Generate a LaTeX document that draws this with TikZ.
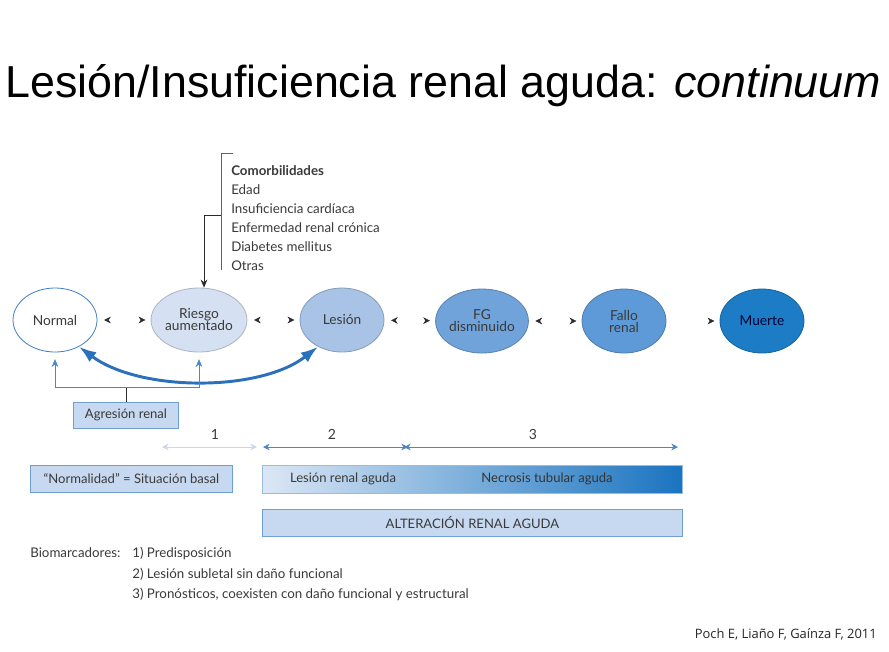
\documentclass[tikz,border=0pt]{standalone}
\usepackage{fontspec}
\setmainfont{Lato}
\newfontfamily\titlefont{Liberation Sans}
\newfontfamily\citefont{Open Sans}
\usetikzlibrary{shapes.geometric,arrows.meta}
\definecolor{edgeblue}{HTML}{3F7FC4}
\definecolor{fRiesgo}{HTML}{D5E1F2}
\definecolor{fLesion}{HTML}{A8C3E6}
\definecolor{fFG}{HTML}{6FA3DA}
\definecolor{fFallo}{HTML}{5E9AD7}
\definecolor{fMuerte}{HTML}{1C7DC6}
\definecolor{boxfill}{HTML}{C7D9F0}
\definecolor{boxedge}{HTML}{6E9ED3}
\definecolor{txt}{HTML}{3A3A3A}
\definecolor{bigblue}{HTML}{2A70BC}
\definecolor{tipgray}{HTML}{2B2B2B}
\definecolor{paleblue}{HTML}{C9D8EA}
\definecolor{lineblue}{HTML}{4A86C8}
\definecolor{gradL}{HTML}{DCE7F5}
\definecolor{gradM}{HTML}{9CBAE2}
\definecolor{gradR}{HTML}{1A74C0}
\tikzset{
  stage/.style={ellipse, minimum width=63pt, minimum height=48pt, inner sep=0pt,
    draw=#1!80!black, line width=0.6pt, fill=#1, text=txt, align=center,
    font=\fontsize{10.3}{10}\selectfont},
  tipline/.style={draw=white, line width=0.3pt, shorten <=5pt, shorten >=4pt,
    {Stealth[length=5pt,width=5pt,color=tipgray]}-{Stealth[length=5pt,width=5pt,color=tipgray]}},
  tipone/.style={draw=white, line width=0.3pt, shorten <=5pt, shorten >=4pt,
    -{Stealth[length=5pt,width=5pt,color=tipgray]}},
  bigarr/.style={draw=bigblue, line width=2.2pt,
    {Latex[length=13pt,width=9pt]}-{Latex[length=13pt,width=9pt]}},
  thinblue/.style={draw=lineblue, line width=0.6pt},
  graytxt/.style={text=txt, font=\fontsize{10}{14.25}\selectfont, inner sep=0pt},
  bluebox/.style={draw=boxedge, line width=0.6pt, fill=boxfill, text=txt,
    font=\fontsize{9.8}{9.8}\selectfont, inner sep=0pt},
  numarr/.style={line width=0.6pt, {Stealth[length=5pt,width=5pt]}-{Stealth[length=5pt,width=5pt]}}
}
\begin{document}
\begin{tikzpicture}[x=0.75pt,y=-0.75pt]
\useasboundingbox (0,0) rectangle (889,651);
\fill[white] (0,0) rectangle (889,651);

% title
\node[anchor=base west, inner sep=0pt, font=\titlefont\fontsize{33.6}{33.6}\selectfont] (title) at (5,97)
  {Lesión/Insuficiencia renal aguda: \textit{continuum}};

% stages
\node[stage=white, draw=edgeblue] (Normal) at (55,320) {Normal};
\node[stage=fRiesgo] (Riesgo) at (199,320) {Riesgo\\[-1pt]aumentado};
\node[stage=fLesion] (Lesion) at (342,320) {Lesión};
\node[stage=fFG] (FG) at (482,321) {FG\\[-1pt]disminuido};
\node[stage=fFallo] (Fallo) at (624,321) {Fallo\\[-1pt]renal};
\node[stage=fMuerte, text=black!80!blue] (Muerte) at (762,321) {Muerte};

\draw[tipline] (Normal) -- (Riesgo);
\draw[tipline] (Riesgo) -- (Lesion);
\draw[tipline] (Lesion) -- (FG);
\draw[tipline] (FG) -- (Fallo);
\draw[tipone] (Fallo) -- (Muerte);

% big curved arrow
\draw[bigarr] (Normal.-48) .. controls (140,392) and (260,392) .. (Lesion.-132);

% comorbilidades
\node[graytxt, anchor=north west, align=left] (Comorb) at (231,165)
  {\textbf{Comorbilidades}\\Edad\\Insuficiencia cardíaca\\Enfermedad renal crónica\\Diabetes mellitus\\Otras};
\coordinate (BrTop) at (233,153);
\coordinate (BrTL) at (221,153);
\coordinate (BrBot) at (221,270);
\coordinate (BrMid) at (221,215);
\coordinate (BrCorner) at (204,215);
\draw[draw=txt!80, line width=0.6pt] (BrTop) -- (BrTL) -- (BrBot);
\draw[draw=tipgray, line width=0.6pt, -{Stealth[length=6pt,width=5pt]}] (BrMid) -- (BrCorner) -- (BrCorner |- Riesgo.north);

% agresion renal
\node[bluebox, minimum width=78.75pt, minimum height=19.5pt] (Agr) at (126,415) {Agresión renal};
\coordinate (J) at (126,387);
\draw[draw=tipgray, line width=0.6pt] (Agr) -- (J);
\draw[thinblue, -{Stealth[length=6pt,width=5pt]}, shorten >=5pt] (J) -| (Normal.south);
\draw[thinblue, -{Stealth[length=6pt,width=5pt]}, shorten >=5pt] (J) -| (Riesgo.south);

% phase numbers and arrows
\node[text=txt, font=\fontsize{10.5}{10.5}\selectfont] (n1) at (215,434) {1};
\node[text=txt, font=\fontsize{10.5}{10.5}\selectfont] (n2) at (332,434) {2};
\node[text=txt, font=\fontsize{10.5}{10.5}\selectfont] (n3) at (533,434) {3};
\coordinate (a1) at (162,447);
\coordinate (a2) at (257,447);
\coordinate (a3) at (263,447);
\coordinate (a4) at (408,447);
\coordinate (a5) at (404,447);
\coordinate (a6) at (678,447);
\draw[numarr, draw=paleblue] (a1) -- (a2);
\draw[numarr, draw=lineblue] (a3) -- (a4);
\draw[numarr, draw=lineblue] (a5) -- (a6);

% bottom boxes
\node[bluebox, anchor=north west, minimum width=151.5pt, minimum height=20.25pt] (Basal) at (30,465)
  {``Normalidad'' = Situación basal};
\shade[left color=gradL, middle color=gradM, right color=gradR] (262,465) rectangle (682,493);
\draw[draw=boxedge!70, line width=0.6pt] (262,465) rectangle (682,493);
\node[text=txt, font=\fontsize{9.8}{9.8}\selectfont] (LRA) at (343,479) {Lesión renal aguda};
\node[text=txt!90!black, font=\fontsize{9.8}{9.8}\selectfont] (NTA) at (547,479) {Necrosis tubular aguda};
\node[bluebox, anchor=north west, minimum width=315pt, minimum height=20.25pt] (ARA) at (262,509)
  {ALTERACIÓN RENAL AGUDA};

% biomarcadores
\node[graytxt, anchor=base west] (Bio) at (30,557) {Biomarcadores:};
\node[graytxt, anchor=base west] (B1) at (132,557) {1) Predisposición};
\node[graytxt, anchor=base west] (B2) at (132,578) {2) Lesión subletal sin daño funcional};
\node[graytxt, anchor=base west] (B3) at (132,598) {3) Pronósticos, coexisten con daño funcional y estructural};

% citation
\node[anchor=base east, inner sep=0pt, text=black!85, font=\citefont\fontsize{9.7}{9.7}\selectfont] (Cite) at (877,638)
  {Poch E, Liaño F, Gaínza F, 2011};
\end{tikzpicture}
\end{document}
